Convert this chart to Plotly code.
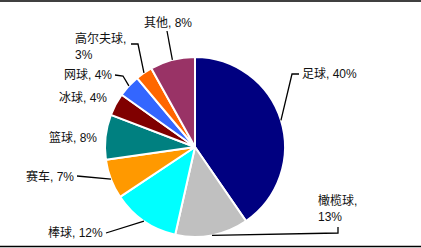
import math
import plotly.graph_objects as go

labels = ["足球", "橄榄球", "棒球", "赛车", "篮球", "冰球", "网球", "高尔夫球", "其他"]
values = [40, 13, 12, 7, 8, 4, 4, 3, 8]
colors = ["#000080", "#C0C0C0", "#00FFFF", "#FF9900", "#008080",
          "#800000", "#3366FF", "#FF6600", "#993366"]

W, H = 421, 248
CX, CY, R = 195, 147, 90

def px(x):
    return x / W

def py(y):
    return 1 - y / H

fig = go.Figure(go.Pie(
    labels=labels, values=values, sort=False, direction="clockwise",
    rotation=0, textinfo="none", hoverinfo="label+percent",
    marker=dict(colors=colors, line=dict(color="white", width=2)),
    domain=dict(x=[px(CX - R), px(CX + R)], y=[py(CY + R), py(CY - R)]),
    showlegend=False,
))

# edge points of each slice from the data
total = sum(values)
edges = []
cum = 0
for v in values:
    frac = (cum + v / 2) / total
    ang = math.radians(90 - 360 * frac)
    edges.append((CX + R * math.cos(ang), CY - R * math.sin(ang)))
    cum += v

pcts = [f"{round(100 * v / total)}%" for v in values]

# label layout: (text, x, y, xanchor, elbow points from text side)
layout_spec = [
    (f"{labels[0]}, {pcts[0]}", 300, 74, "left", [(299, 74), (292, 74)]),
    (f"{labels[1]},<br>{pcts[1]}", 316, 208, "left", [(338, 227), (338, 233)]),
    (f"{labels[2]}, {pcts[2]}", 105, 233, "right", [(106, 233)]),
    (f"{labels[3]}, {pcts[3]}", 76, 176, "right", [(77, 176)]),
    (f"{labels[4]}, {pcts[4]}", 99, 137, "right", None),
    (f"{labels[5]}, {pcts[5]}", 109, 98, "right", None),
    (f"{labels[6]}, {pcts[6]}", 114, 75, "right", [(115, 75), (123, 76)]),
    (f"{labels[7]},<br>{pcts[7]}", 73, 46, "left", [(131, 44), (138, 44)]),
    (f"{labels[8]}, {pcts[8]}", 168, 23, "center", [(167, 31)]),
]

font = dict(family="Liberation Sans, Noto Sans CJK SC, sans-serif", size=12, color="#111")
for (txt, x, y, xa, pts), edge in zip(layout_spec, edges):
    fig.add_annotation(x=px(x), y=py(y), xref="paper", yref="paper", text=txt,
                       showarrow=False, xanchor=xa, yanchor="middle", align="left",
                       font=font)
    if pts:
        all_pts = pts + [edge]
        path = "M " + " L ".join(f"{px(a)},{py(b)}" for a, b in all_pts)
        fig.add_shape(type="path", path=path, xref="paper", yref="paper",
                      line=dict(color="black", width=1.3))

# top and bottom frame lines
for yy in (1, 246.5):
    fig.add_shape(type="line", x0=0, x1=1, y0=py(yy), y1=py(yy), xref="paper", yref="paper",
                  line=dict(color="black", width=1.5))

fig.update_layout(width=W, height=H, margin=dict(l=0, r=0, t=0, b=0),
                  paper_bgcolor="white", plot_bgcolor="white")
fig.write_html("out.html")
